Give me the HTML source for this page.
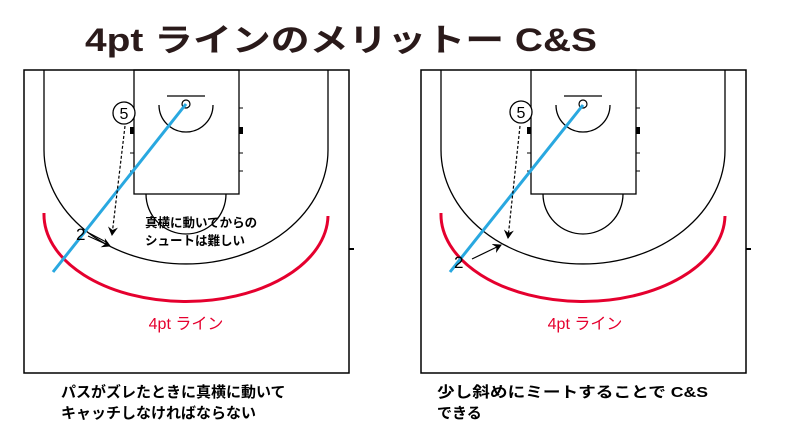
<!DOCTYPE html>
<html><head><meta charset="utf-8"><style>
html,body{margin:0;padding:0;background:#fff;}
svg{display:block;}
text{font-family:"Liberation Sans","Noto Sans CJK JP",sans-serif;}
</style></head><body>
<svg width="789" height="441" viewBox="0 0 789 441" xmlns="http://www.w3.org/2000/svg">
<text x="85" y="51" font-size="32" font-weight="bold" fill="#2a1a1a" textLength="512" lengthAdjust="spacingAndGlyphs">4pt ラインのメリットー C&amp;S</text>

<defs>
<marker id="ah" markerWidth="10" markerHeight="10" refX="8" refY="5" orient="auto" markerUnits="userSpaceOnUse">
<path d="M0,0 L9,5 L0,10 L3,5 Z" fill="#000"/>
</marker>
<g id="court" fill="none" stroke="#000">
<rect x="24" y="70" width="325" height="303" stroke-width="1.5"/>
<path d="M44,70 L44,150 A142,114 0 0 0 328,150 L328,70" stroke-width="1.3"/>
<rect x="134" y="70" width="105" height="124" stroke-width="1.3"/>
<path d="M146,194 A40,40 0 0 0 226,194" stroke-width="1.3"/>
<line x1="167" y1="96" x2="205" y2="96" stroke-width="1.3"/>
<circle cx="186" cy="104" r="4" stroke-width="1.2"/>
<path d="M159,105 A27,27 0 0 0 213,105" stroke-width="1.3"/>
<g stroke-width="1">
<line x1="130" y1="108" x2="134" y2="108"/><line x1="239" y1="108" x2="243" y2="108"/>
<line x1="130" y1="153" x2="134" y2="153"/><line x1="239" y1="153" x2="243" y2="153"/>
<line x1="130" y1="171" x2="134" y2="171"/><line x1="239" y1="171" x2="243" y2="171"/>
</g>
<rect x="130" y="127" width="4" height="7" fill="#000" stroke="none"/>
<rect x="239" y="127" width="4" height="7" fill="#000" stroke="none"/>
<line x1="349" y1="249" x2="354" y2="249" stroke-width="2"/>
<path d="M44,213 A142,87 0 0 0 328,216" stroke="#e5002e" stroke-width="3"/>
</g>
</defs>

<!-- left court -->
<use href="#court"/>
<line x1="186" y1="104" x2="53" y2="272" stroke="#29a8e0" stroke-width="3"/>
<circle cx="124" cy="113" r="11" fill="#fff" stroke="#000" stroke-width="1.3"/>
<text x="124" y="119" font-size="16" text-anchor="middle" fill="#000">5</text>
<line x1="125" y1="126" x2="112" y2="235" stroke="#000" stroke-width="1.2" stroke-dasharray="3,2" marker-end="url(#ah)"/>
<text x="76" y="240" font-size="17" fill="#000">2</text>
<line x1="89" y1="233" x2="108" y2="243" stroke="#000" stroke-width="1"/>
<line x1="88" y1="236" x2="110" y2="246" stroke="#000" stroke-width="1" marker-end="url(#ah)"/>
<text x="145" y="227" font-size="12.5" font-weight="bold" fill="#000">真横に動いてからの</text>
<text x="145" y="245" font-size="12.5" font-weight="bold" fill="#000">シュートは難しい</text>
<text x="186" y="329" font-size="16" fill="#e5002e" text-anchor="middle">4pt ライン</text>
<text x="61" y="397" font-size="15" font-weight="bold" fill="#000">パスがズレたときに真横に動いて</text>
<text x="61" y="418" font-size="15" font-weight="bold" fill="#000">キャッチしなければならない</text>

<!-- right court -->
<g transform="translate(397,0)"><use href="#court"/></g>
<line x1="583" y1="105" x2="450" y2="272" stroke="#29a8e0" stroke-width="3"/>
<circle cx="521" cy="112" r="11" fill="#fff" stroke="#000" stroke-width="1.3"/>
<text x="521" y="118" font-size="16" text-anchor="middle" fill="#000">5</text>
<line x1="520" y1="126" x2="508" y2="238" stroke="#000" stroke-width="1.2" stroke-dasharray="3,2" marker-end="url(#ah)"/>
<text x="454" y="268" font-size="17" fill="#000">2</text>
<line x1="472" y1="259" x2="501" y2="245" stroke="#000" stroke-width="1.2" marker-end="url(#ah)"/>
<text x="585" y="329" font-size="16" fill="#e5002e" text-anchor="middle">4pt ライン</text>
<text x="437" y="397" font-size="15" font-weight="bold" fill="#000" textLength="271" lengthAdjust="spacingAndGlyphs">少し斜めにミートすることで C&amp;S</text>
<text x="437" y="418" font-size="15" font-weight="bold" fill="#000">できる</text>
</svg>
</body></html>
